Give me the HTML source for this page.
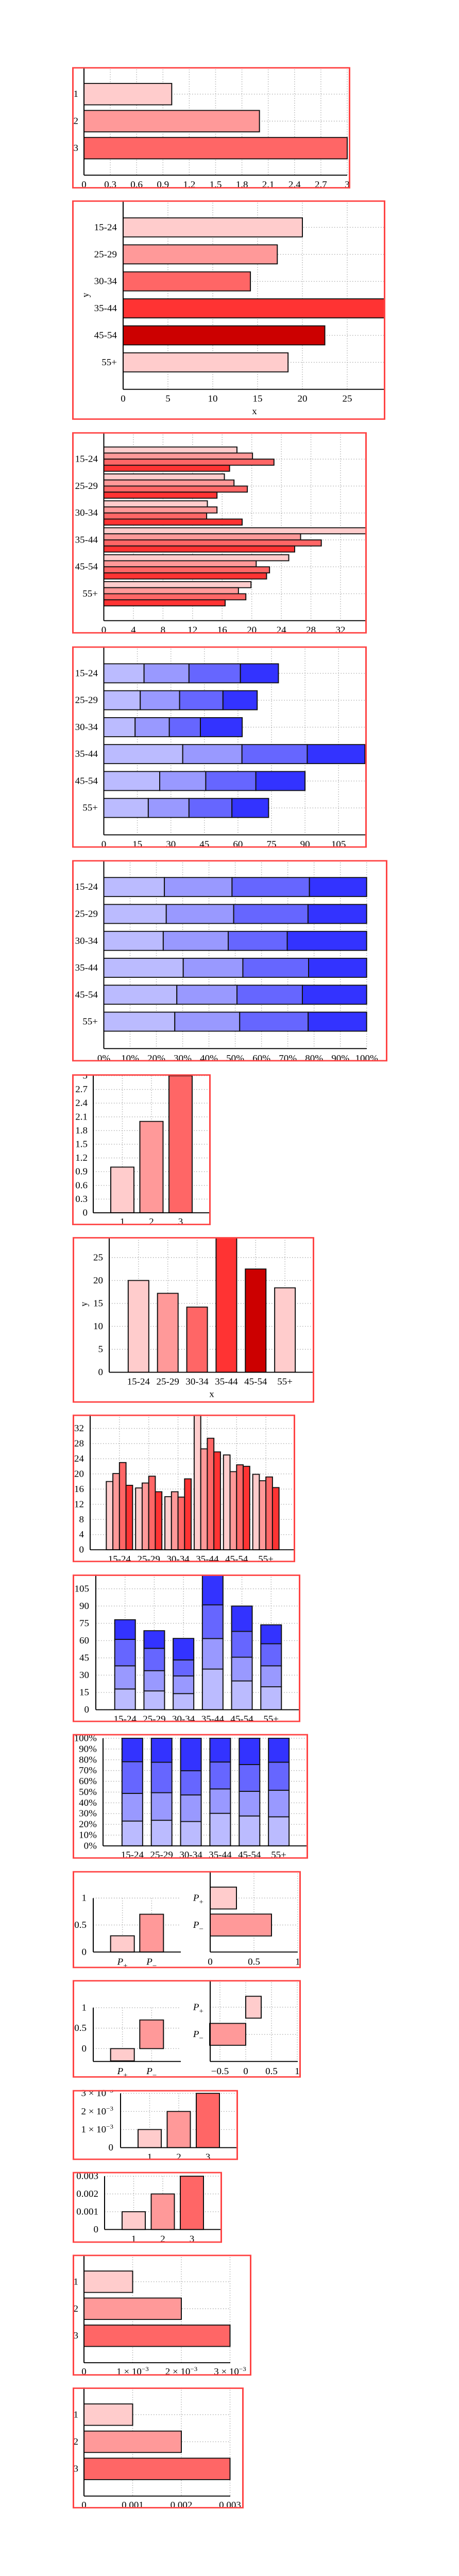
<!DOCTYPE html>
<html><head><meta charset="utf-8"><meta name="viewport" content="width=891, initial-scale=1"><title>Bar charts</title>
<style>
html,body{margin:0;padding:0;background:#fff;width:100%;height:100%;overflow:hidden;}
#root{display:block;position:fixed;left:0;top:0;width:100vw;height:100vh;}
text{font-family:"Liberation Serif","DejaVu Serif",serif;font-size:19px;fill:#000;}
</style></head>
<body>
<svg id="root" viewBox="0 0 891 5412" preserveAspectRatio="none" xmlns="http://www.w3.org/2000/svg"></svg>
<script>
// ---------- data ----------
const numCats = ['1','2','3'];
const c1Vals = [1, 2, 3];
const c1Ticks = [0,0.3,0.6,0.9,1.2,1.5,1.8,2.1,2.4,2.7,3];
const c1TickLabels = ['0','0.3','0.6','0.9','1.2','1.5','1.8','2.1','2.4','2.7','3'];

const ageCats = ['15-24','25-29','30-34','35-44','45-54','55+'];
const c2Vals = [20, 17.2, 14.2, 29.3, 22.5, 18.4];
const c2Ticks = [0,5,10,15,20,25];
const c2TickLabels = ['0','5','10','15','20','25'];

const c3SeriesA = [18.0, 16.3, 14.0, 35.5, 25.0, 19.9];
const c3SeriesB = [20.1, 17.6, 15.3, 26.6, 20.6, 18.2];
const c3SeriesC = [23.0, 19.4, 13.9, 29.4, 22.4, 19.2];
const c3SeriesD = [17.0, 15.3, 18.7, 25.8, 22.0, 16.4];
const c3Ticks = [0,4,8,12,16,20,24,28,32];
const c3TickLabels = ['0','4','8','12','16','20','24','28','32'];

const c4SeriesA = [18.0, 16.3, 14.0, 35.3, 25.0, 19.9];
const c4SeriesB = [20.1, 17.6, 15.3, 26.5, 20.6, 18.2];
const c4SeriesC = [23.0, 19.4, 13.9, 29.2, 22.4, 19.2];
const c4SeriesD = [17.0, 15.3, 18.7, 25.8, 22.0, 16.4];
const c4Ticks = [0,15,30,45,60,75,90,105];
const c4TickLabels = ['0','15','30','45','60','75','90','105'];

const c5SeriesA = [18.0, 16.3, 14.0, 35.3, 25.0, 19.9];
const c5SeriesB = [20.1, 17.6, 15.3, 26.5, 20.6, 18.2];
const c5SeriesC = [23.0, 19.4, 13.9, 29.2, 22.4, 19.2];
const c5SeriesD = [17.0, 15.3, 18.7, 25.8, 22.0, 16.4];
const pctTicks = [0,10,20,30,40,50,60,70,80,90,100];
const pctTickLabels = ['0%','10%','20%','30%','40%','50%','60%','70%','80%','90%','100%'];

const c6Vals = [1, 2, 3];
const c7Vals = [20, 17.2, 14.2, 29.3, 22.5, 18.4];

const c8SeriesA = [18.0, 16.3, 14.0, 35.5, 25.0, 19.9];
const c8SeriesB = [20.1, 17.6, 15.3, 26.6, 20.6, 18.2];
const c8SeriesC = [23.0, 19.4, 13.9, 29.4, 22.4, 19.2];
const c8SeriesD = [17.0, 15.3, 18.7, 25.8, 22.0, 16.4];

const c9SeriesA = [18.0, 16.3, 14.0, 35.3, 25.0, 19.9];
const c9SeriesB = [20.1, 17.6, 15.3, 26.5, 20.6, 18.2];
const c9SeriesC = [23.0, 19.4, 13.9, 29.2, 22.4, 19.2];
const c9SeriesD = [17.0, 15.3, 18.7, 25.8, 22.0, 16.4];

const c10SeriesA = [18.0, 16.3, 14.0, 35.3, 25.0, 19.9];
const c10SeriesB = [20.1, 17.6, 15.3, 26.5, 20.6, 18.2];
const c10SeriesC = [23.0, 19.4, 13.9, 29.2, 22.4, 19.2];
const c10SeriesD = [17.0, 15.3, 18.7, 25.8, 22.0, 16.4];

const pCats = ['P+','P−'];
const c11LeftVals = [0.3, 0.7];
const c11RightVals = [0.3, 0.7];
const c12LeftVals = [-0.3, 0.7];
const c12RightVals = [0.3, -0.7];
const halfTicks = [0, 0.5, 1];
const halfTickLabels = ['0','0.5','1'];
const c12RightTicks = [-0.5, 0, 0.5, 1];
const c12RightTickLabels = ['−0.5','0','0.5','1'];

const c13Vals = [0.001, 0.002, 0.003];
const c14Vals = [0.001, 0.002, 0.003];
const c15Vals = [0.001, 0.002, 0.003];
const c16Vals = [0.001, 0.002, 0.003];
const milliTicks = [0, 0.001, 0.002, 0.003];
const sciTickLabels = ['0','1 × 10^−3','2 × 10^−3','3 × 10^−3'];
const decTickLabels = ['0','0.001','0.002','0.003'];

// ---------- styles ----------
const REDS = ['#ffcccc','#ff9999','#ff6666','#ff3333','#cc0000','#ffcccc'];
const BLUES = ['#bbbbff','#9999ff','#6666ff','#3333ff'];
const NS = 'http://www.w3.org/2000/svg';
const root = document.getElementById('root');

function mk(tag, attrs, parent){
  const e = document.createElementNS(NS, tag);
  for (const k in attrs) e.setAttribute(k, attrs[k]);
  parent.appendChild(e);
  return e;
}
function panel(fx, fy, fw, fh, name){
  const s = mk('svg', {x:fx, y:fy, width:fw, height:fh, viewBox:`${fx} ${fy} ${fw} ${fh}`, overflow:'hidden'}, root);
  
  
  return s;
}
function frame(fx, fy, fw, fh){
  const r = mk('rect', {x:fx+1.5, y:fy+1.5, width:fw-3, height:fh-3, fill:'none', stroke:'#ff4444', 'stroke-width':3}, root);
  
  
}
function grid(g, x1, y1, x2, y2){
  const l = mk('line', {x1, y1, x2, y2, stroke:'#aaaaaa', 'stroke-width':1.5, 'stroke-dasharray':'1.5 3.5'}, g);
  
  
}
function axisLine(g, x1, y1, x2, y2, name){
  const l = mk('line', {x1, y1, x2, y2, stroke:'#000', 'stroke-width':2}, g);
  
  
}
function bar(g, x, y, w, h, fill){
  const r = mk('rect', {x, y, width:Math.max(w,0), height:Math.max(h,0), fill, stroke:'#111', 'stroke-width':2}, g);
  
  
}
function label(g, x, y, str, anchor, name){
  const t = mk('text', {x, y, 'text-anchor':anchor}, g);
  
  
  if (str.indexOf('^') >= 0) {
    const parts = str.split('^');
    const a = mk('tspan', {}, t); a.textContent = parts[0];
    const b = mk('tspan', {dy:-8, 'font-size':13}, t); b.textContent = parts[1];
  } else if (str === 'P+' || str === 'P−') {
    const a = mk('tspan', {'font-style':'italic'}, t); a.textContent = 'P';
    const b = mk('tspan', {dy:7, 'font-size':15}, t); b.textContent = str[1];
  } else {
    t.textContent = str;
  }
  return t;
}
function layoutSeries(series, mode){
  const n = series[0].length, out = [];
  for (let i = 0; i < n; i++) {
    const row = []; let acc = 0;
    let tot = 0; series.forEach(s => tot += s[i]);
    series.forEach(s => {
      let v = s[i];
      if (mode === 'pct') v = v / tot * 100;
      if (mode === 'stack' || mode === 'pct') { row.push([acc, acc + v]); acc += v; }
      else row.push([Math.min(0, v), Math.max(0, v)]);
    });
    out.push(row);
  }
  return out;
}
function hChart(g, L, cats, series, mode, colors, ticks, tickLabels){
  const n = cats.length, pitch = (L.bottom - L.top) / (n + 1);
  const X = v => L.zeroX + v * L.k;
  const cy = i => L.top + (i + 1) * pitch;
  ticks.forEach(t => grid(g, X(t), L.top, X(t), L.bottom));
  for (let i = 0; i < n; i++) grid(g, L.axX, cy(i), L.endX, cy(i));
  const segs = layoutSeries(series, mode);
  for (let i = 0; i < n; i++) {
    const m = series.length;
    segs[i].forEach((s, j) => {
      let y = cy(i) - L.thick / 2, h = L.thick;
      if (mode === 'group') { h = L.thick / m; y += j * h; }
      const fill = mode === 'single' ? colors[i] : colors[j];
      bar(g, X(s[0]), y, X(s[1]) - X(s[0]), h, fill);
    });
  }
  axisLine(g, L.axX, L.top, L.axX, L.bottom, 'y-axis');
  axisLine(g, L.axX, L.bottom, L.endX, L.bottom, 'x-axis');
  ticks.forEach((t, i) => label(g, X(t), L.tickY + 6, tickLabels[i], 'middle', 'x-tick-label'));
  cats.forEach((c, i) => label(g, L.catRight, cy(i) + 6, c, 'end', 'y-category-label'));
}
function vChart(g, L, cats, series, mode, colors, ticks, tickLabels){
  const n = cats.length, pitch = (L.right - L.left) / (n + 1);
  const Y = v => L.zeroY - v * L.k;
  const cx = i => L.left + (i + 1) * pitch;
  ticks.forEach(t => grid(g, L.left, Y(t), L.right, Y(t)));
  for (let i = 0; i < n; i++) grid(g, cx(i), L.top, cx(i), L.base);
  const segs = layoutSeries(series, mode);
  for (let i = 0; i < n; i++) {
    const m = series.length;
    segs[i].forEach((s, j) => {
      let x = cx(i) - L.thick / 2, w = L.thick;
      if (mode === 'group') { w = L.thick / m; x += j * w; }
      const fill = mode === 'single' ? colors[i] : colors[j];
      bar(g, x, Y(s[1]), w, Y(s[0]) - Y(s[1]), fill);
    });
  }
  axisLine(g, L.left, L.top, L.left, L.base, 'y-axis');
  axisLine(g, L.left, L.base, L.right, L.base, 'x-axis');
  ticks.forEach((t, i) => label(g, L.tickRight, Y(t) + 6, tickLabels[i], 'end', 'y-tick-label'));
  cats.forEach((c, i) => label(g, cx(i), L.catY + 6, c, 'middle', 'x-category-label'));
}
function chart(box, name, fn){
  const g = panel(box[0], box[1], box[2], box[3], name);
  fn(g);
  frame(box[0], box[1], box[2], box[3]);
}

chart([140,141,540,255], 'hbar-simple', g => hChart(g,
  {axX:163, top:141, bottom:368, zeroX:163, k:170.33, endX:674, tickY:388, thick:45, catRight:152},
  numCats, [c1Vals], 'single', REDS, c1Ticks, c1TickLabels));
chart([140,421,608,461], 'hbar-age', g => {
  hChart(g, {axX:239, top:421, bottom:818, zeroX:239, k:17.4, endX:749, tickY:838, thick:40, catRight:227},
    ageCats, [c2Vals], 'single', REDS, c2Ticks, c2TickLabels);
  label(g, 494, 870, 'x', 'middle', 'x-axis-title');
  const t = label(g, 0, 0, 'y', 'middle', 'y-axis-title');
  t.setAttribute('transform', 'translate(172,620) rotate(-90)');
});
chart([140,908,572,423], 'hbar-grouped', g => hChart(g,
  {axX:201.5, top:908, bottom:1304, zeroX:201.5, k:14.36, endX:712, tickY:1324, thick:51, catRight:190},
  ageCats, [c3SeriesA,c3SeriesB,c3SeriesC,c3SeriesD], 'group', REDS, c3Ticks, c3TickLabels));
chart([140,1358,572,423], 'hbar-stacked', g => hChart(g,
  {axX:201.5, top:1358, bottom:1754, zeroX:201.5, k:4.34, endX:712, tickY:1774, thick:40, catRight:190},
  ageCats, [c4SeriesA,c4SeriesB,c4SeriesC,c4SeriesD], 'stack', BLUES, c4Ticks, c4TickLabels));
chart([140,1807,612,423], 'hbar-percent', g => hChart(g,
  {axX:201.5, top:1807, bottom:2203, zeroX:201.5, k:5.102, endX:712, tickY:2224, thick:40, catRight:190},
  ageCats, [c5SeriesA,c5SeriesB,c5SeriesC,c5SeriesD], 'pct', BLUES, pctTicks, pctTickLabels));
chart([140,2257,269,317], 'vbar-simple', g => vChart(g,
  {left:181, right:407, base:2548, zeroY:2548, k:96, top:2260, tickRight:170, catY:2567, thick:45},
  numCats, [c6Vals], 'single', REDS, c1Ticks, c1TickLabels));
chart([141,2599,469,348], 'vbar-age', g => {
  vChart(g, {left:212, right:610, base:2883, zeroY:2883, k:9.64, top:2600, tickRight:200, catY:2903, thick:40},
    ageCats, [c7Vals], 'single', REDS, c2Ticks, c2TickLabels);
  label(g, 411, 2935, 'x', 'middle', 'x-axis-title');
  const t = label(g, 0, 0, 'y', 'middle', 'y-axis-title');
  t.setAttribute('transform', 'translate(169,2740) rotate(-90)');
});
chart([141,2972,432,310], 'vbar-grouped', g => vChart(g,
  {left:175, right:573, base:3256, zeroY:3256, k:7.97, top:2972, tickRight:163, catY:3276, thick:51},
  ageCats, [c8SeriesA,c8SeriesB,c8SeriesC,c8SeriesD], 'group', REDS, c3Ticks, c3TickLabels));
chart([141,3308,442,310], 'vbar-stacked', g => vChart(g,
  {left:186, right:583, base:3592, zeroY:3592, k:2.42, top:3308, tickRight:173, catY:3612, thick:40},
  ageCats, [c9SeriesA,c9SeriesB,c9SeriesC,c9SeriesD], 'stack', BLUES, c4Ticks, c4TickLabels));
chart([141,3643,457,262], 'vbar-percent', g => vChart(g,
  {left:200, right:598, base:3878, zeroY:3878, k:2.26, top:3652, tickRight:188, catY:3897, thick:40},
  ageCats, [c10SeriesA,c10SeriesB,c10SeriesC,c10SeriesD], 'pct', BLUES, pctTicks, pctTickLabels));
chart([141,3931,443,204], 'p-bars-positive', g => {
  vChart(g, {left:181, right:351, base:4101, zeroY:4101, k:113.3, top:3988, tickRight:168, catY:4122, thick:46},
    pCats, [c11LeftVals], 'single', REDS, halfTicks, halfTickLabels);
  hChart(g, {axX:408, top:3931, bottom:4101, zeroX:408, k:170, endX:578, tickY:4122, thick:46, catRight:395},
    pCats, [c11RightVals], 'single', REDS, halfTicks, halfTickLabels);
});
chart([141,4160,443,205], 'p-bars-signed', g => {
  vChart(g, {left:181, right:351, base:4331, zeroY:4304, k:86, top:4218, tickRight:168, catY:4352, thick:46},
    pCats, [c12LeftVals], 'single', REDS, halfTicks, halfTickLabels);
  hChart(g, {axX:408, top:4160, bottom:4331, zeroX:477, k:100, endX:578, tickY:4352, thick:46, catRight:395},
    pCats, [c12RightVals], 'single', REDS, c12RightTicks, c12RightTickLabels);
});
chart([141,4391,321,147], 'vbar-sci', g => vChart(g,
  {left:234, right:460, base:4512, zeroY:4512, k:38000, top:4398, tickRight:220, catY:4532, thick:45},
  numCats, [c13Vals], 'single', REDS, milliTicks, sciTickLabels));
chart([141,4563,290,149], 'vbar-decimal', g => vChart(g,
  {left:203, right:429, base:4684, zeroY:4684, k:37333, top:4572, tickRight:191, catY:4704, thick:45},
  numCats, [c14Vals], 'single', REDS, milliTicks, decTickLabels));
chart([141,4737,347,254], 'hbar-sci', g => hChart(g,
  {axX:163, top:4737, bottom:4964, zeroX:163, k:94500, endX:447, tickY:4983, thick:45, catRight:152},
  numCats, [c15Vals], 'single', REDS, milliTicks, sciTickLabels));
chart([141,5016,332,254], 'hbar-decimal', g => hChart(g,
  {axX:163, top:5016, bottom:5244, zeroX:163, k:94500, endX:447, tickY:5263, thick:45, catRight:152},
  numCats, [c16Vals], 'single', REDS, milliTicks, decTickLabels));
</script>
</body></html>
